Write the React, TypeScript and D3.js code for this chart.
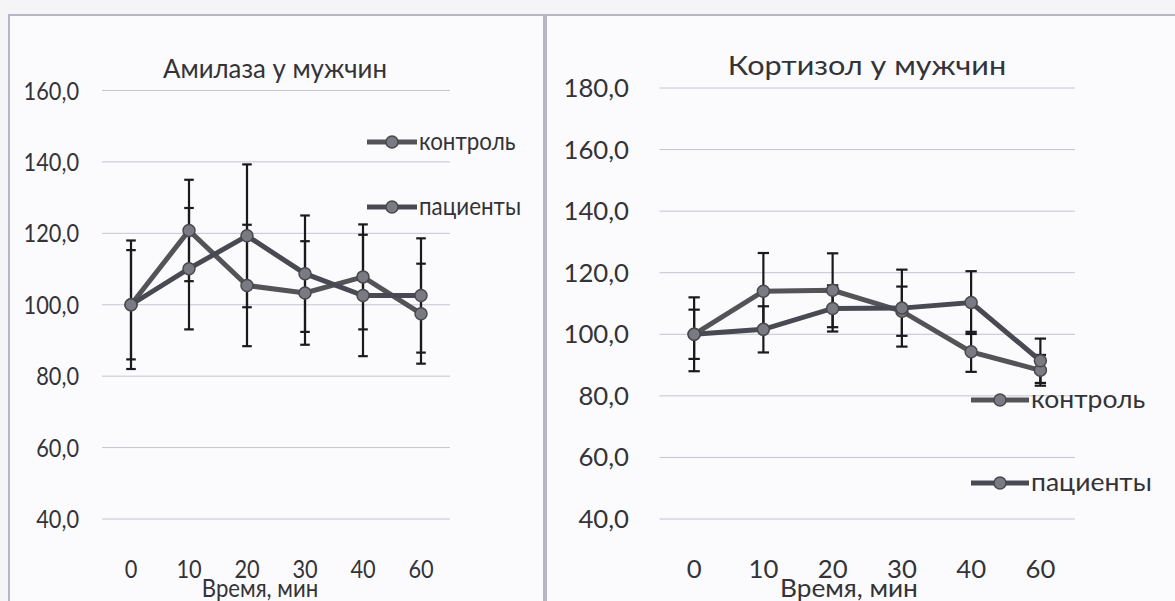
import * as d3 from "d3";
import {useEffect, useRef} from "react";

// time points (minutes)
const categories = ["0", "10", "20", "30", "40", "60"];
const seriesNames = ["контроль", "пациенты"];

// Амилаза у мужчин
const amylaseControl = [100, 120.8, 105.4, 103.3, 107.8, 97.5];
const amylaseControlErr = [18, 14.2, 17, 14.5, 14.7, 14];
const amylasePatients = [100, 110.1, 119.3, 108.7, 102.6, 102.6];
const amylasePatientsErr = [15.3, 17, 20, 16.3, 17, 16];
const amylaseTicks = [40, 60, 80, 100, 120, 140, 160];

// Кортизол у мужчин
const cortisolControl = [100, 114, 114.3, 107.5, 94.3, 88.3];
const cortisolControlErr = [12, 12.4, 12, 8, 6.5, 5];
const cortisolPatients = [100, 101.6, 108.4, 108.5, 110.3, 91.4];
const cortisolPatientsErr = [8, 7.5, 7.5, 12.5, 10.2, 7.2];
const cortisolTicks = [40, 60, 80, 100, 120, 140, 160, 180];

const xTitle = "Время, мин";
const FONT = "Lato, 'Open Sans', sans-serif";

const panels = [
    {
        title: "Амилаза у мужчин",
        frame: {x: 9, y: 15, w: 535, h: 620},
        plot: {x0: 102, x1: 450, top: 90.5, bottom: 519},
        ticks: amylaseTicks,
        labelX: 79,
        stretch: 0.87,
        titleX: 275, titleY: 78,
        xTitleX: 260,
        legend: {x: 367, ys: [142, 207], w: 50},
        series: [
            {values: amylaseControl, err: amylaseControlErr, color: "#525258"},
            {values: amylasePatients, err: amylasePatientsErr, color: "#4a4a52"},
        ],
    },
    {
        title: "Кортизол у мужчин",
        frame: {x: 546, y: 15, w: 700, h: 620},
        plot: {x0: 659.5, x1: 1075, top: 88, bottom: 519},
        ticks: cortisolTicks,
        labelX: 629,
        stretch: 1.03,
        titleX: 867, titleY: 75,
        xTitleX: 849,
        legend: {x: 971, ys: [400, 483], w: 58},
        series: [
            {values: cortisolControl, err: cortisolControlErr, color: "#525258"},
            {values: cortisolPatients, err: cortisolPatientsErr, color: "#4a4a52"},
        ],
    },
];

const App = () => {
    const ref = useRef(null);

    useEffect(() => {
        const svg = d3.select(ref.current);
        svg.selectAll("*").remove();

        const defs = svg.append("defs");
        defs.append("filter").attr("id", "soft")
            .attr("filterUnits", "userSpaceOnUse")
            .attr("x", 0).attr("y", 0).attr("width", 1175).attr("height", 601)
            .append("feGaussianBlur").attr("stdDeviation", 0.6);

        svg.append("rect").attr("width", 1175).attr("height", 601).attr("fill", "#f5f5f8");

        // stretched text helper
        const txt = (g, x, y, s, str, size, anchor) =>
            g.append("text")
                .attr("transform", `translate(${x},${y}) scale(${s},1)`)
                .attr("text-anchor", anchor)
                .attr("font-family", FONT)
                .attr("font-size", size)
                .attr("fill", "#333338")
                .text(str);

        panels.forEach(p => {
            const g = svg.append("g");

            g.append("rect")
                .attr("x", p.frame.x).attr("y", p.frame.y)
                .attr("width", p.frame.w).attr("height", p.frame.h)
                .attr("fill", "#fbfbfd")
                .attr("stroke", "#b6b6c6").attr("stroke-width", 2);

            const x = d3.scaleBand().domain(categories).range([p.plot.x0, p.plot.x1]);
            const cx = c => x(c) + x.bandwidth() / 2;
            const y = d3.scaleLinear()
                .domain([p.ticks[0], p.ticks[p.ticks.length - 1]])
                .range([p.plot.bottom, p.plot.top]);

            // gridlines
            g.selectAll(".grid").data(p.ticks).join("line")
                .attr("x1", p.plot.x0).attr("x2", p.plot.x1)
                .attr("y1", d => y(d)).attr("y2", d => y(d))
                .attr("stroke", "#c4c4d2").attr("stroke-width", 1);

            // y labels
            p.ticks.forEach(t => txt(g, p.labelX, y(t) + 9, p.stretch, d3.format(".1f")(t).replace(".", ","), 25, "end"));

            // x labels
            categories.forEach(c => txt(g, cx(c), 578, p.stretch, c, 25, "middle"));
            txt(g, p.xTitleX, 597, p.stretch * 1.02, xTitle, 25, "middle");

            // title
            txt(g, p.titleX, p.titleY, p.stretch * 1.1, p.title, 27, "middle");

            const line = d3.line().x((d, i) => cx(categories[i])).y(d => y(d));
            const cap = 5.5 * p.stretch;

            p.series.forEach(s => {
                const eb = g.append("g").attr("stroke", "#1a1a1e").attr("stroke-width", 2.2);
                s.values.forEach((v, i) => {
                    const xx = cx(categories[i]);
                    const hi = y(v + s.err[i]), lo = y(v - s.err[i]);
                    eb.append("line").attr("x1", xx).attr("x2", xx).attr("y1", hi).attr("y2", lo);
                    eb.append("line").attr("x1", xx - cap).attr("x2", xx + cap).attr("y1", hi).attr("y2", hi);
                    eb.append("line").attr("x1", xx - cap).attr("x2", xx + cap).attr("y1", lo).attr("y2", lo);
                });
            });

            p.series.forEach(s => {
                g.append("path")
                    .attr("d", line(s.values))
                    .attr("fill", "none")
                    .attr("stroke", s.color)
                    .attr("stroke-width", 5)
                    .attr("filter", "url(#soft)");
                g.selectAll(null).data(s.values).join("circle")
                    .attr("cx", (d, i) => cx(categories[i]))
                    .attr("cy", d => y(d))
                    .attr("r", 6)
                    .attr("fill", "#7a7a82")
                    .attr("stroke", "#48484e").attr("stroke-width", 1.5)
                    .attr("filter", "url(#soft)");
            });

            // legend
            p.series.forEach((s, i) => {
                const ly = p.legend.ys[i];
                g.append("line")
                    .attr("x1", p.legend.x).attr("x2", p.legend.x + p.legend.w)
                    .attr("y1", ly).attr("y2", ly)
                    .attr("stroke", s.color).attr("stroke-width", 5)
                    .attr("filter", "url(#soft)");
                g.append("circle")
                    .attr("cx", p.legend.x + p.legend.w / 2).attr("cy", ly).attr("r", 6)
                    .attr("fill", "#7a7a82").attr("stroke", "#48484e").attr("stroke-width", 1.5)
                    .attr("filter", "url(#soft)");
                txt(g, p.legend.x + p.legend.w + 2, ly + 8, p.stretch * 1.03, seriesNames[i], 25, "start");
            });
        });
    }, []);

    return (
        <svg ref={ref} width={1175} height={601}
             style={{position: "absolute", left: 0, top: 0, display: "block"}}/>
    );
};

export default App;
